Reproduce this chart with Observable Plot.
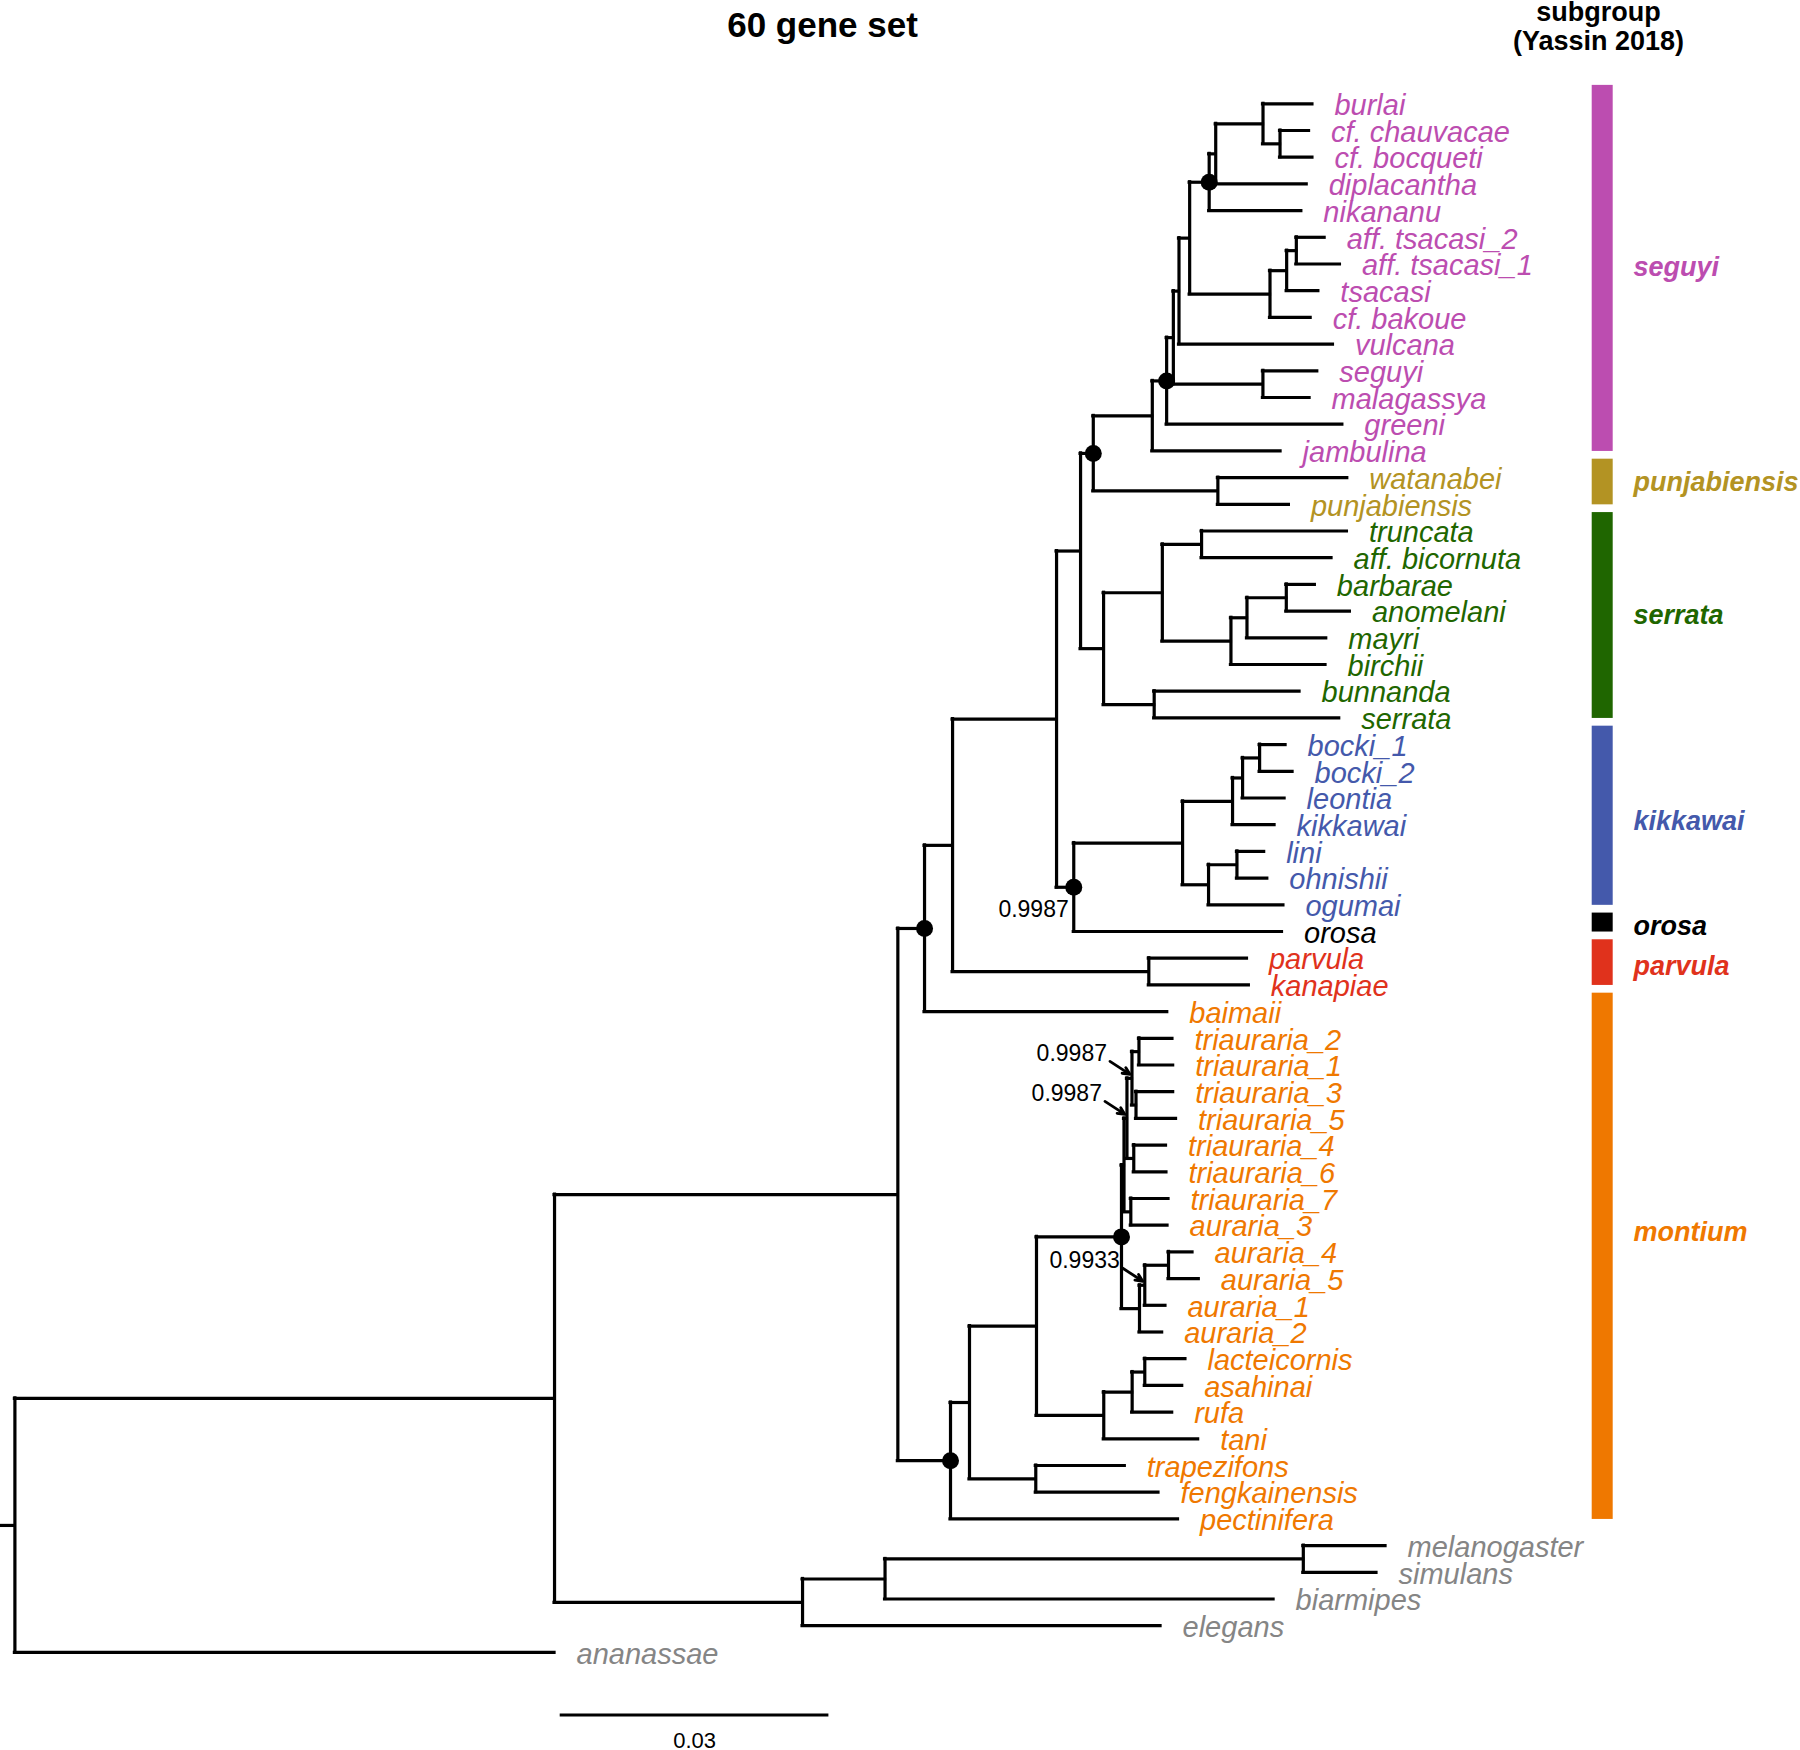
<!DOCTYPE html>
<html>
<head>
<meta charset="utf-8">
<script src="https://cdn.jsdelivr.net/npm/d3@7"></script>
<script src="https://cdn.jsdelivr.net/npm/@observablehq/plot@0.6"></script>
<style>
  html, body { margin: 0; padding: 0; background: #ffffff; overflow: hidden; }
  #chart svg { display: block; }
</style>
</head>
<body>
<div id="chart"></div>
<script>
// ---------------- DATA ----------------
// Subtrees (Newick, branch lengths in substitutions per site, internal nodes named)
const seguyiClade = "((((((((burlai:0.00552,(cf. chauvacae:0.00324,cf. bocqueti:0.00362)CB:0.00190)Y:0.00528,diplacantha:0.01016)X2:0.00073,nikananu:0.01029)X1:0.00218,(((aff. tsacasi_2:0.00316,aff. tsacasi_1:0.00487)T2:0.00108,tsacasi:0.00354)T1:0.00186,cf. bakoue:0.00454)T:0.00897)W:0.00119,vulcana:0.01719)V:0.00063,(seguyi:0.00607,malagassya:0.00521)SM:0.01000)U:0.00075,greeni:0.01962)K:0.00160,jambulina:0.01432)J";
const punjabiensisClade = "(watanabei:0.01445,punjabiensis:0.00793)P";
const serrataClade = "(((truncata:0.01623,aff. bicornuta:0.01451)S2:0.00438,(((barbarae:0.00319,anomelani:0.00710)S5:0.00439,mayri:0.00885)S4:0.00179,birchii:0.01056)S3:0.00766)S1:0.00656,(bunnanda:0.01623,serrata:0.02066)S6:0.00565)S";
const kikkawaiClade = "((((bocki_1:0.00290,bocki_2:0.00368)Kk3:0.00190,leontia:0.00469)Kk2:0.00112,kikkawai:0.00469)Kk1:0.00558,((lini:0.00304,ohnishii:0.00339)Kk5:0.00317,ogumai:0.00836)Kk4:0.00290)Kk";
const parvulaClade = "(parvula:0.01096,kanapiae:0.01117)PV";
const montiumClade = "((((((((triauraria_2:0.00374,triauraria_1:0.00382)Q1:0.00078,(triauraria_3:0.00415,triauraria_5:0.00447)Q2:0.00045)N1:0.00056,(triauraria_4:0.00360,triauraria_6:0.00365)Q3:0.00076)N2:0.00033,(triauraria_7:0.00421,auraria_3:0.00410)Q4:0.00076)N3:0.00028,(((auraria_4:0.00268,auraria_5:0.00338)AU2:0.00265,auraria_1:0.00231)AU1:0.00059,auraria_2:0.00253)AU:0.00201)D3:0.00949,(((lacteicornis:0.00454,asahinai:0.00418)L2:0.00141,rufa:0.00447)L1:0.00317,tani:0.01054)L:0.00751)D2:0.00748,(trapezifons:0.00994,fengkainensis:0.01370)TF:0.00740)D1:0.00212,pectinifera:0.02540)D";
const outgroupClade = "(((melanogaster:0.00918,simulans:0.00817)MS:0.04670,biarmipes:0.04338)O1:0.00921,elegans:0.03997)O";

const treeString =
  `((((((((${seguyiClade}:0.00659,${punjabiensisClade}:0.01391)I:0.00142,${serrataClade}:0.00257)G:0.00268,` +
  `(${kikkawaiClade}:0.01215,orosa:0.02325)H:0.00192)F:0.01161,${parvulaClade}:0.02191)E:0.00313,baimaii:0.02710)C:0.00298,` +
  `${montiumClade}:0.00588)B:0.03833,${outgroupClade}:0.02769)A:0.06025,ananassae:0.06025)R:0.00161;`;

// Subgroups (Yassin 2018): name, first and last tip
const subgroupNames     = ["seguyi", "punjabiensis", "serrata", "kikkawai", "orosa", "parvula", "montium"];
const subgroupFirstTip  = ["burlai", "watanabei", "truncata", "bocki_1", "orosa", "parvula", "baimaii"];
const subgroupLastTip   = ["jambulina", "punjabiensis", "serrata", "ogumai", "orosa", "kanapiae", "pectinifera"];
const outgroupTips      = ["melanogaster", "simulans", "biarmipes", "elegans", "ananassae"];

// Nodes marked with a dot, and nodes with posterior support labels
const dotNodes      = ["X1", "K", "I", "H", "C", "D3", "D"];
const supportNodes  = ["H", "N1", "N2", "AU1"];
const supportValues = ["0.9987", "0.9987", "0.9987", "0.9933"];

const scaleBarLength = 0.03;
const titleText = "60 gene set";
const headerLines = ["subgroup", "(Yassin 2018)"];

// ---------------- STYLE ----------------
const subgroupColors = {
  seguyi: "#BC4DB0", punjabiensis: "#B39323", serrata: "#1F6600", kikkawai: "#4459AB",
  orosa: "#000000", parvula: "#E0321C", montium: "#EF7800"
};
const outgroupColor = "#858585";
const labelNudgePx = { montium: -24, kikkawai: 6, orosa: 3.5, parvula: 4, seguyi: -1 };
const supportWithArrow = { H: false, N1: true, N2: true, AU1: true };
const FONT = "'Liberation Sans', Arial, Helvetica, sans-serif";

// Layout (pixels)
const W = 1800, H = 1750;
const PPU = 268.7 / 0.03;   // pixels per substitution/site
const X0 = 14.4;            // root node x in pixels
const Y0 = 103.3, DYPX = 26.7; // first tip y, tip spacing
const xu = px => (px - X0) / PPU;
const yu = px => (px - Y0) / DYPX;
const xd = px => px / PPU;
const yd = px => px / DYPX;

// ---------------- PARSE ----------------
function parseNewick(s) {
  let i = 0;
  function node() {
    const n = { children: [] };
    if (s[i] === "(") {
      i++;
      n.children.push(node());
      while (s[i] === ",") { i++; n.children.push(node()); }
      i++; // ')'
    }
    let name = "";
    while (i < s.length && !"(),:;".includes(s[i])) name += s[i++];
    n.name = name.trim();
    n.length = 0;
    if (s[i] === ":") {
      i++;
      let num = "";
      while (i < s.length && !"(),;".includes(s[i])) num += s[i++];
      n.length = +num;
    }
    return n;
  }
  return node();
}

const root = parseNewick(treeString);
const nodes = [], tips = [];
(function walk(n, parent, depth) {
  n.parent = parent; n.depth = depth; nodes.push(n);
  n.children.forEach(c => walk(c, n, depth + c.length));
  if (!n.children.length) { n.y = tips.length; tips.push(n); }
})(root, null, 0);
(function setY(n) {
  if (n.children.length) {
    n.children.forEach(setY);
    n.y = (n.children[0].y + n.children[n.children.length - 1].y) / 2;
  }
})(root);

const tipIndex = new Map(tips.map(t => [t.name, t.y]));
const subgroups = subgroupNames.map((name, k) => ({
  name, first: tipIndex.get(subgroupFirstTip[k]), last: tipIndex.get(subgroupLastTip[k])
}));
function tipColor(name) {
  if (outgroupTips.includes(name)) return outgroupColor;
  const i = tipIndex.get(name);
  const g = subgroups.find(s => i >= s.first && i <= s.last);
  return g ? subgroupColors[g.name] : "#000000";
}

const hEdges = nodes.map(n => ({ y: n.y, x1: n.parent ? n.parent.depth : -n.length, x2: n.depth }));
const vEdges = nodes.filter(n => n.children.length).map(n => ({
  x: n.depth, y1: n.children[0].y, y2: n.children[n.children.length - 1].y
}));
const byName = new Map(nodes.map(n => [n.name, n]));
const dots = dotNodes.map(k => byName.get(k));
const supports = supportNodes.map((k, i) => ({ node: byName.get(k), value: supportValues[i], arrow: supportWithArrow[k] }));
const supPlain = supports.filter(s => !s.arrow);
const supArrow = supports.filter(s => s.arrow);

const barX1 = xu(1591.7), barX2 = xu(1612.7);
const sbX = xu(559.7);

// ---------------- PLOT ----------------
const chart = Plot.plot({
  width: W, height: H, margin: 0,
  x: { domain: [xu(0), xu(W)], range: [0, W], axis: null },
  y: { domain: [yu(0), yu(H)], range: [0, H], axis: null },
  color: { type: "identity" },
  style: { fontFamily: FONT, background: "#ffffff", overflow: "visible" },
  marks: [
    Plot.ruleY(hEdges, { y: "y", x1: "x1", x2: "x2", stroke: "black", strokeWidth: 3.2, strokeLinecap: "square" }),
    Plot.ruleX(vEdges, { x: "x", y1: "y1", y2: "y2", stroke: "black", strokeWidth: 3.2, strokeLinecap: "square" }),
    Plot.dot(dots, { x: "depth", y: "y", r: 8.5, fill: "black", stroke: "none" }),
    Plot.text(tips, {
      x: "depth", y: "y", text: "name", dx: 22, dy: 2, textAnchor: "start",
      fontSize: 29, fontStyle: "italic", fontFamily: FONT,
      fill: d => tipColor(d.name), ariaLabel: "tip-labels"
    }),
    Plot.text(supPlain, {
      x: d => d.node.depth, y: d => d.node.y, text: "value", dx: -5, dy: 22,
      textAnchor: "end", fontSize: 23, fill: "black", fontFamily: FONT
    }),
    Plot.text(supArrow, {
      x: d => d.node.depth, y: d => d.node.y, text: "value", dx: -25, dy: -25,
      textAnchor: "end", fontSize: 23, fill: "black", fontFamily: FONT
    }),
    Plot.arrow(supArrow, {
      x1: d => d.node.depth + xd(-22), y1: d => d.node.y + yd(-17),
      x2: d => d.node.depth + xd(-2), y2: d => d.node.y + yd(-4),
      stroke: "black", strokeWidth: 2.8, headLength: 11, headAngle: 50
    }),
    Plot.rect(subgroups, {
      x1: barX1, x2: barX2, y1: d => d.first - 0.69, y2: d => d.last + 0.02,
      fill: d => subgroupColors[d.name]
    }),
    Plot.text(subgroups, {
      x: xu(1633), y: d => (d.first - 0.69 + d.last + 0.02) / 2 + yd(labelNudgePx[d.name] || 0),
      text: "name", textAnchor: "start", fontSize: 27, fontWeight: "bold", fontStyle: "italic",
      fill: d => subgroupColors[d.name], fontFamily: FONT
    }),
    Plot.ruleY([scaleBarLength], { y: yu(1714.5), x1: sbX, x2: d => sbX + d, stroke: "black", strokeWidth: 3.2 }),
    Plot.text([scaleBarLength], { x: d => sbX + d / 2, y: yu(1740), text: d => String(d), fontSize: 22, fill: "black", fontFamily: FONT }),
    Plot.text([titleText], { x: xu(822), y: yu(25.5), text: d => d, fontSize: 35, fontWeight: "bold", fill: "black", fontFamily: FONT }),
    Plot.text([headerLines.join("\n")], {
      x: xu(1598), y: yu(0), text: d => d, lineAnchor: "top", lineHeight: 1.07,
      fontSize: 27, fontWeight: "bold", fill: "black", fontFamily: FONT
    })
  ]
});

// Upright "cf." / "aff." prefixes inside italic tip labels
const NS = "http://www.w3.org/2000/svg";
chart.querySelectorAll('g[aria-label="tip-labels"] text').forEach(t => {
  const m = t.textContent.match(/^(cf\.|aff\.)\s+(.*)$/);
  if (m) {
    t.textContent = "";
    t.style.whiteSpace = "pre";
    const a = document.createElementNS(NS, "tspan");
    a.setAttribute("font-style", "normal");
    a.textContent = m[1] + " ";
    const b = document.createElementNS(NS, "tspan");
    b.textContent = m[2];
    t.append(a, b);
  }
});

document.getElementById("chart").appendChild(chart);
</script>
</body>
</html>
